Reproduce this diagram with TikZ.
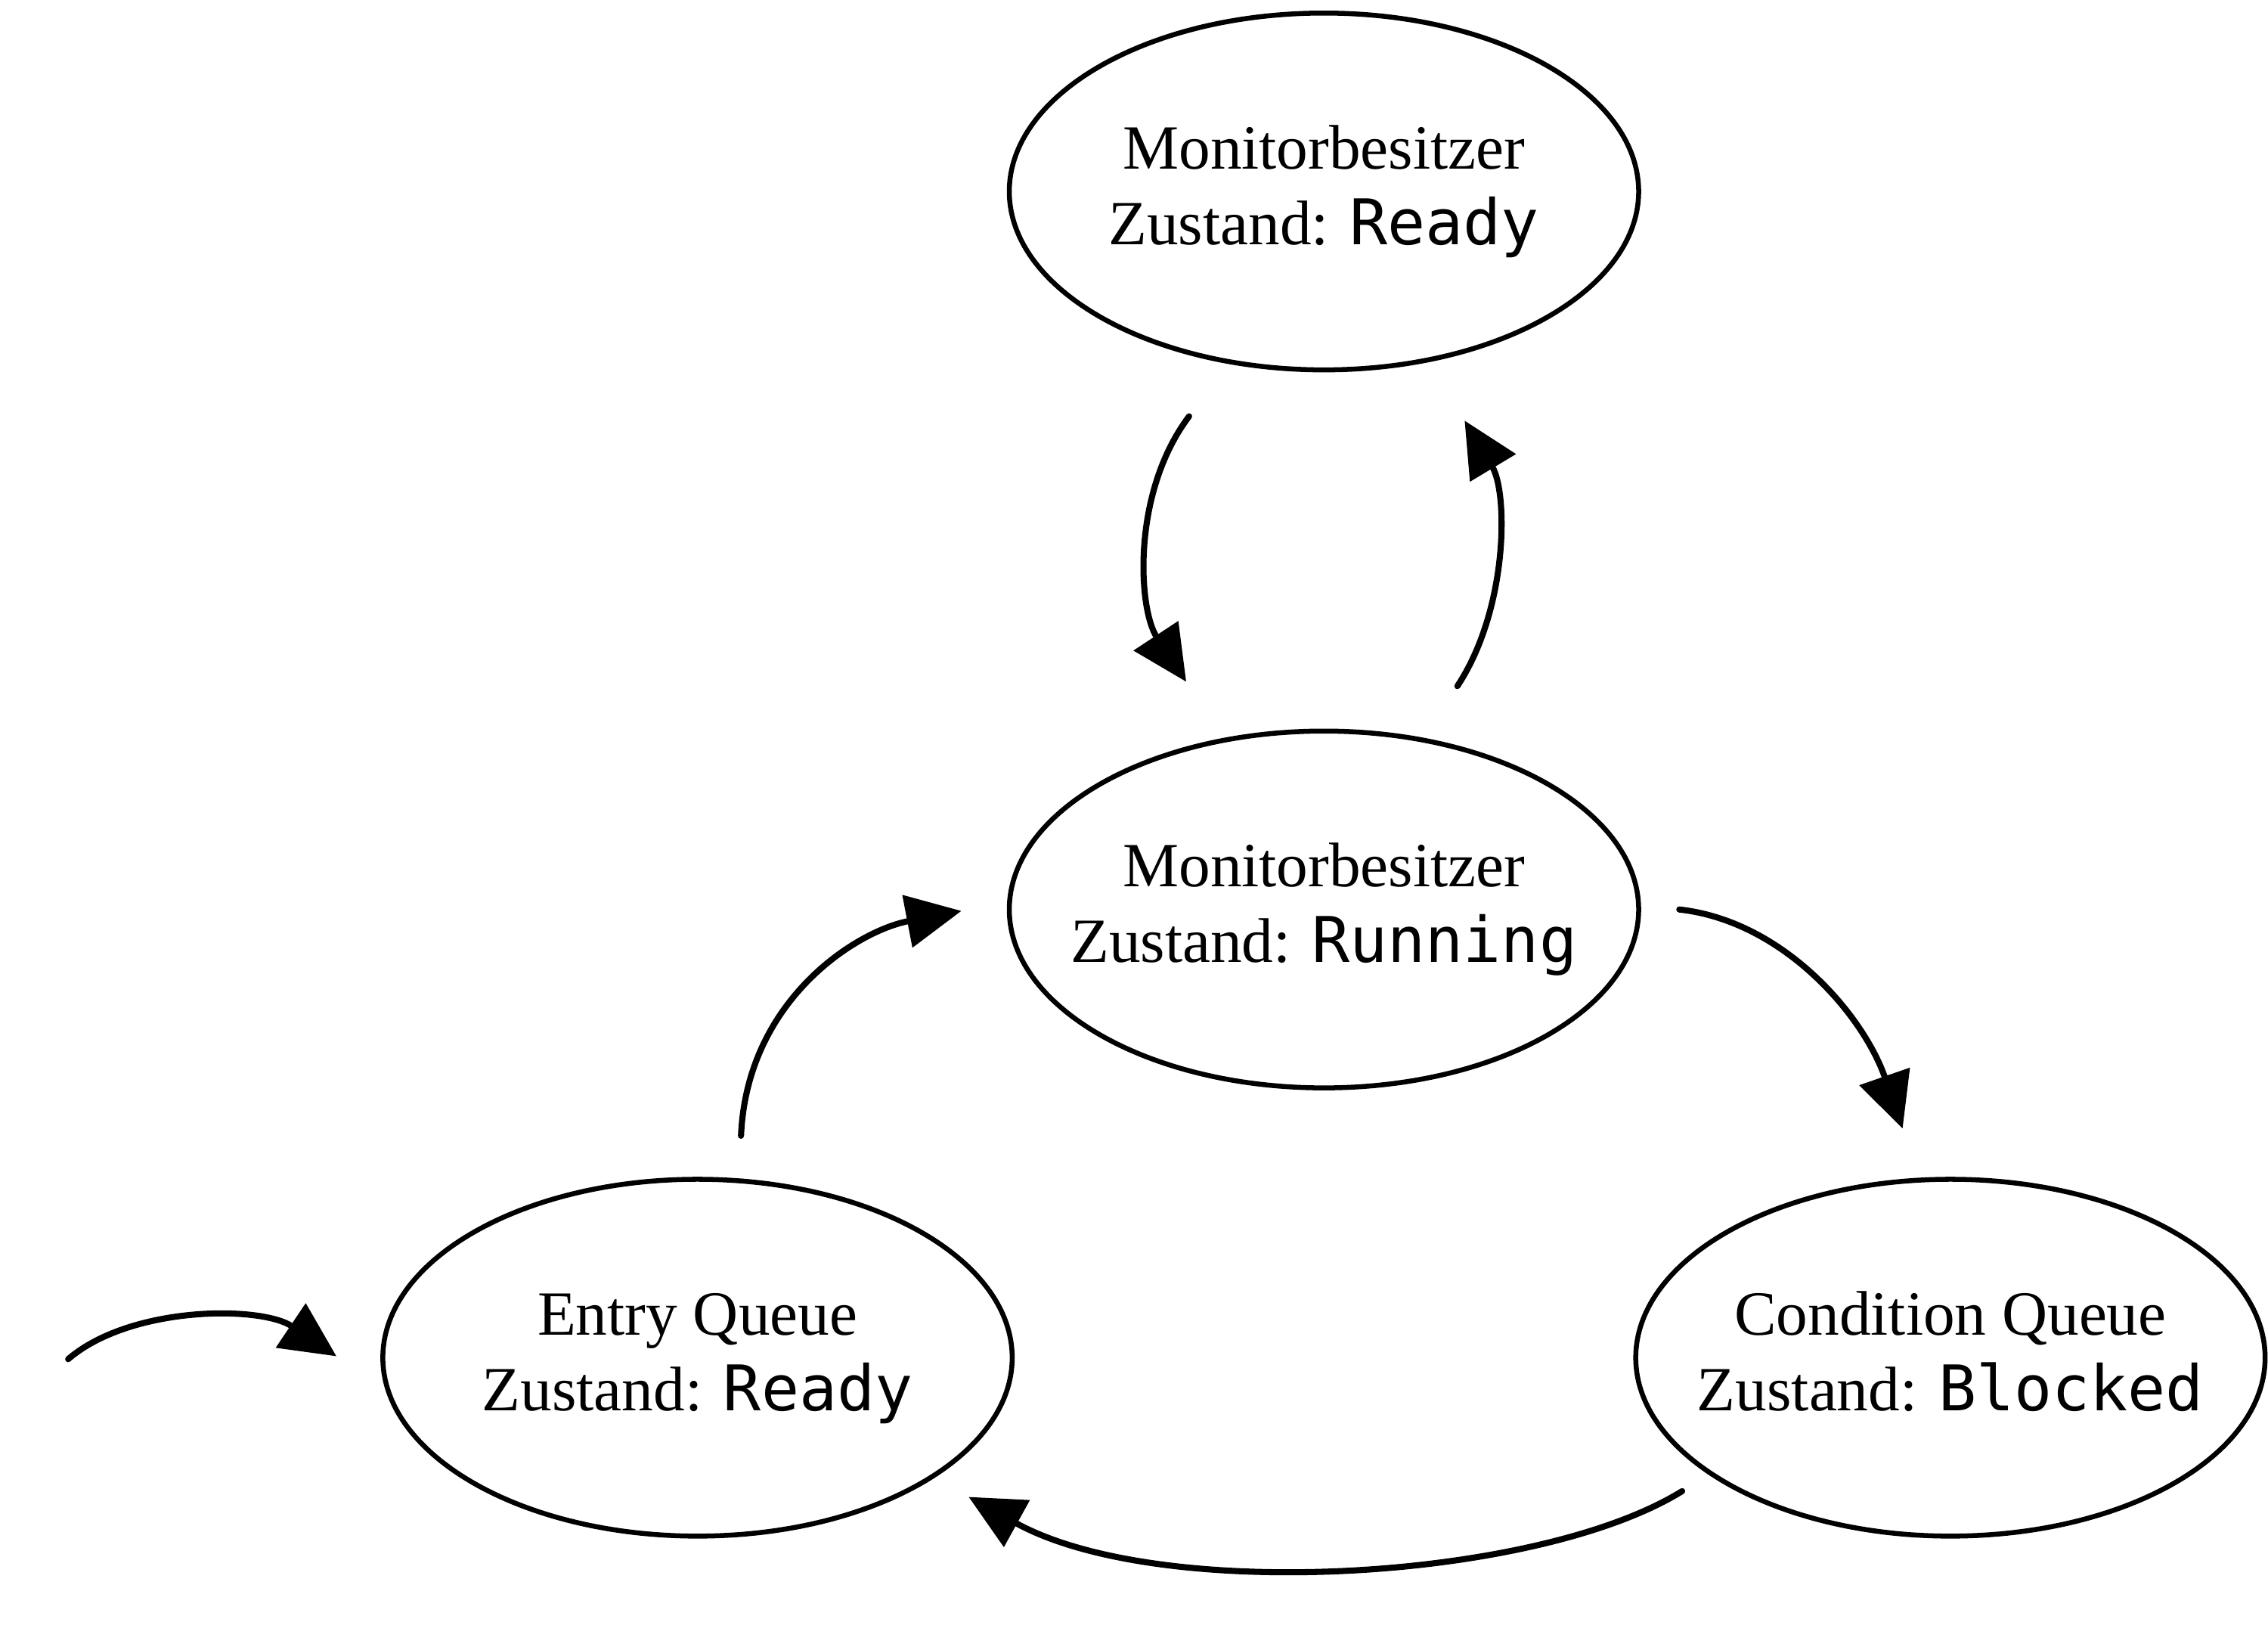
\documentclass[tikz,border=0pt]{standalone}
\usepackage{fontspec}
\setmainfont{Liberation Serif}
\newfontfamily\statefont{DejaVu Sans Mono}
\usetikzlibrary{shapes.geometric,arrows.meta,calc}
\newcommand{\statetext}[2]{\makebox[0pt][c]{\begin{tabular}{@{}c@{}}#1\\#2\end{tabular}}}
\begin{document}
\begin{tikzpicture}[x=0.5pt,y=-0.5pt,
  state/.style={ellipse,draw,line width=1.7pt,minimum width=217pt,minimum height=123pt,inner sep=0pt,font=\fontsize{21.7}{26}\selectfont},
  conn/.style={line width=2.1pt,line cap=round,-{Triangle[length=19pt,width=18pt]}}]
\useasboundingbox (0,0) rectangle (1564,1135);
\node[state] (top) at (913,132) {\statetext{Monitorbesitzer}{Zustand: {\statefont Ready}}};
\node[state] (mid) at (913,627) {\statetext{Monitorbesitzer}{Zustand: {\statefont Running}}};
\node[state] (entry) at (481,936) {\statetext{Entry Queue}{Zustand: {\statefont Ready}}};
\node[state] (cond) at (1345,936) {\statetext{Condition Queue}{Zustand: {\statefont Blocked}}};
\coordinate (d1) at ($(top)+(-93,155)$);
\coordinate (d2) at ($(mid)+(-95,-157)$);
\coordinate (u1) at ($(mid)+(92,-154)$);
\coordinate (u2) at ($(top)+(97,158)$);
\coordinate (e1) at ($(entry)+(30,-153)$);
\coordinate (e2) at ($(mid)+(-250,1)$);
\coordinate (m1) at ($(mid)+(245,0)$);
\coordinate (m2) at ($(cond)+(-33,-158)$);
\coordinate (c1) at ($(cond)+(-185,92)$);
\coordinate (c2) at ($(entry)+(187,96)$);
\coordinate (s0) at (47,937);
\coordinate (s1) at ($(entry)+(-249,-1)$);
\draw[conn] (d1) .. controls (780,340) and (785,420) .. (d2);
\draw[conn] (u1) .. controls (1040,420) and (1040,340) .. (u2);
\draw[conn] (e1) .. controls (515,690) and (590,642) .. (e2);
\draw[conn] (m1) .. controls (1230,635) and (1285,700) .. (m2);
\draw[conn] (c1) .. controls (1060,1090) and (800,1105) .. (c2);
\draw[conn] (s0) .. controls (90,900) and (180,900) .. (s1);
\end{tikzpicture}
\end{document}
